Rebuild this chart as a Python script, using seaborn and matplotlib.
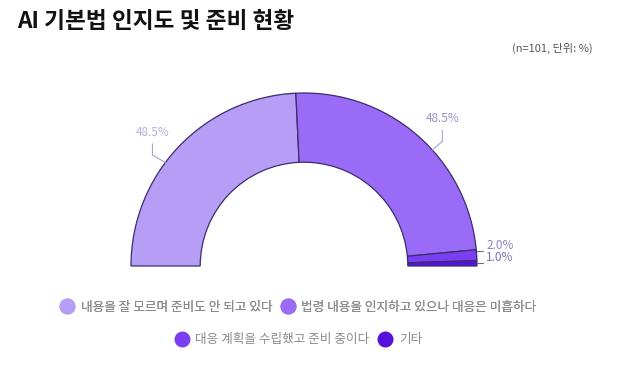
import numpy as np
import seaborn as sns
import matplotlib.pyplot as plt
from matplotlib.lines import Line2D

# data
labels = ['내용을 잘 모르며 준비도 안 되고 있다', '법령 내용을 인지하고 있으나 대응은 미흡하다',
          '대응 계획을 수립했고 준비 중이다', '기타']
values = [48.5, 48.5, 2.0, 1.0]
colors = ['#b69df6', '#9a6bf6', '#7a3ff0', '#5512d9']
label_colors = ['#b9b0dc', '#9b8fcc', '#8f84c2', '#7a6fb5']

sns.set_theme(style='white')
plt.rcParams['font.family'] = ['Noto Sans CJK KR', 'DejaVu Sans']

fig = plt.figure(figsize=(6.4, 3.65), dpi=100)
# donut centre at (304, 266) px, outer radius 173 px
ax = fig.add_axes([131 / 640, (365 - 266) / 365, 346 / 640, 173 / 365])

# half donut: add an invisible slice equal to the total
wedges, _ = ax.pie(values + [sum(values)], colors=colors + ['none'], startangle=180,
                   counterclock=False, radius=1,
                   wedgeprops=dict(width=0.4, edgecolor='#3b2d6e', linewidth=0.9))
wedges[-1].set_edgecolor('none')
ax.set_xlim(-1, 1)
ax.set_ylim(0, 1)
ax.set_aspect('auto')
ax.axis('off')

# labels with leader lines
cum = np.cumsum([0] + values)
total = sum(values)
for i, v in enumerate(values):
    mid = 180 - (cum[i] + v / 2) / total * 180
    if v > 10:
        shift = 2.3 if mid > 90 else -2.3
        tt = np.radians(mid + shift)
        tx, ty = 1.167 * np.cos(tt), 1.167 * np.sin(tt)
        st = np.radians(mid + 3 * shift)
        sx, sy = np.cos(st), np.sin(st)
        ax.plot([sx, tx, tx], [sy, ty - 0.13, ty - 0.065],
                color='#aaa4c4', lw=0.8, clip_on=False)
        ax.text(tx, ty, f'{v:.1f}%', color=label_colors[i], fontsize=8.5,
                ha='center', va='center')
    else:
        ly = 0.087 if i == 2 else 0.017
        ax.plot([1.0, 1.035], [ly, ly], color='#6e6a8a', lw=0.8, clip_on=False)
        ax.text(1.052, ly + 0.03, f'{v:.1f}%', color=label_colors[i], fontsize=8.5,
                ha='left', va='center')

fig.text(17 / 640, 1 - 21 / 365, 'AI 기본법 인지도 및 준비 현황', fontsize=16.3,
         fontweight='bold', color='#111111', ha='left', va='center')
fig.text(593 / 640, 1 - 48 / 365, '(n=101, 단위: %)', fontsize=8,
         color='#555555', ha='right', va='center')

handles = [Line2D([], [], marker='o', ls='', markersize=10.5, markerfacecolor=c,
                  markeredgecolor=c) for c in colors]
leg1 = fig.legend(handles[:2], labels[:2], ncol=2, loc='center',
                  bbox_to_anchor=(298 / 640, 1 - 307 / 365), frameon=False,
                  fontsize=9.1, labelcolor='#8a8a8a', handletextpad=0.5,
                  columnspacing=0.6, handlelength=1.2)
fig.add_artist(leg1)
fig.legend(handles[2:], labels[2:], ncol=2, loc='center',
           bbox_to_anchor=(298 / 640, 1 - 340 / 365), frameon=False,
           fontsize=9.1, labelcolor='#8a8a8a', handletextpad=0.5,
           columnspacing=0.6, handlelength=1.2)

fig.savefig('out.png', dpi=100)
